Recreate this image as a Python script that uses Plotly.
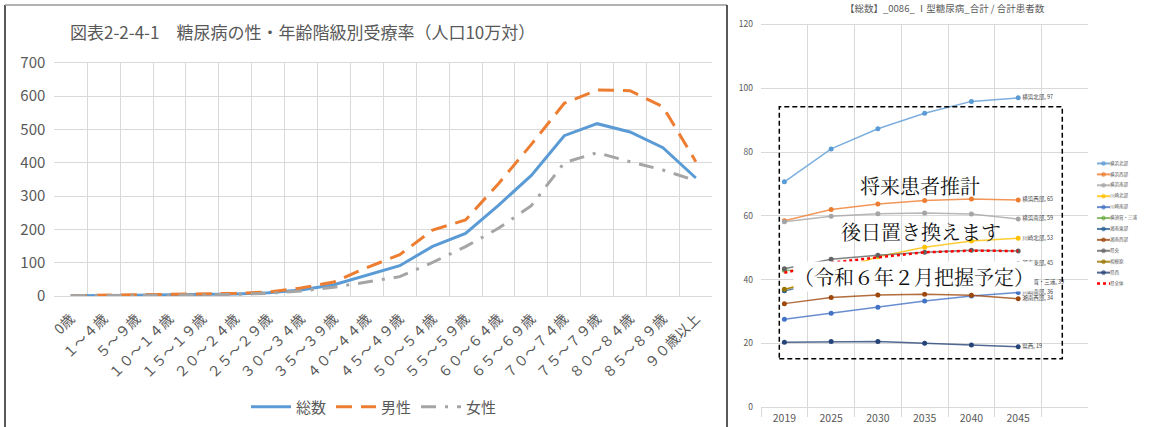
import plotly.graph_objects as go

FONT = "Noto Sans CJK JP"
SERIF = "Noto Serif CJK JP, " + FONT
GRID = "#D9D9D9"
TICK = "#595959"

# ---- 図表2-2-4-1 糖尿病の性・年齢階級別受療率（人口10万対） ----
age_groups = ["0歳", "１～４歳", "５～９歳", "１０～１４歳", "１５～１９歳", "２０～２４歳",
              "２５～２９歳", "３０～３４歳", "３５～３９歳", "４０～４４歳", "４５～４９歳",
              "５０～５４歳", "５５～５９歳", "６０～６４歳", "６５～６９歳", "７０～７４歳",
              "７５～７９歳", "８０～８４歳", "８５～８９歳", "９０歳以上"]
rate_total = [1, 1, 2, 4, 4, 6, 10, 18, 34, 62, 91, 149, 188, 272, 362, 481, 517, 492, 445, 354]
rate_male = [1, 2, 3, 4, 5, 8, 12, 24, 42, 85, 124, 198, 228, 337, 455, 578, 618, 616, 568, 403]
rate_female = [1, 1, 2, 3, 3, 5, 8, 15, 26, 42, 58, 101, 148, 203, 271, 400, 430, 403, 378, 346]

# ---- 【総数】_0086_ Ⅰ型糖尿病 合計患者数（二次医療圏別） ----
years = ["2019", "2025", "2030", "2035", "2040", "2045"]
areas = ["横浜北部", "横浜西部", "横浜南部", "川崎北部", "川崎南部", "横須賀・三浦",
         "湘南東部", "湘南西部", "県央", "相模原", "県西", "県全体"]
area_colors = ["#5B9BD5", "#ED7D31", "#A5A5A5", "#FFC000", "#4472C4", "#70AD47",
               "#255E91", "#9E480E", "#636363", "#997300", "#264478", "#FF0000"]
patients = {
    "横浜北部": [70.7, 81.0, 87.3, 92.2, 95.9, 97],
    "横浜西部": [58.5, 62.0, 63.7, 64.8, 65.3, 65],
    "横浜南部": [58.2, 59.9, 60.7, 60.9, 60.6, 59],
    "川崎北部": [36.8, 42.3, 47.2, 50.2, 52.1, 53],
    "川崎南部": [27.6, 29.5, 31.4, 33.3, 34.9, 36],
    "横須賀・三浦": [43.0, 42.6, 41.8, 40.9, 40.0, 39],
    "湘南東部": [36.5, 39.6, 41.7, 43.3, 44.4, 45],
    "湘南西部": [32.5, 34.4, 35.2, 35.4, 35.1, 34],
    "県央": [43.4, 46.4, 47.7, 48.6, 49.2, 49],
    "相模原": [37.0, 40.2, 42.3, 43.7, 44.5, 44.8],
    "県西": [20.4, 20.6, 20.6, 20.1, 19.5, 19],
    "県全体": [42.2, 45.3, 47.0, 48.6, 49.1, 49.0],
}
# series whose final value is written next to the 2045 point
end_labelled = ["横浜北部", "横浜西部", "横浜南部", "川崎北部", "川崎南部", "横須賀・三浦",
                "湘南東部", "湘南西部", "県西"]


def rgba(hex_color, a):
    h = hex_color.lstrip("#")
    return "rgba(%d,%d,%d,%.2f)" % (int(h[0:2], 16), int(h[2:4], 16), int(h[4:6], 16), a)


fig = go.Figure()

# left chart: rate by age group
fig.add_trace(go.Scatter(x=age_groups, y=rate_total, name="総数", mode="lines",
                         line=dict(color="#5B9BD5", width=3), xaxis="x", yaxis="y"))
fig.add_trace(go.Scatter(x=age_groups, y=rate_male, name="男性", mode="lines",
                         line=dict(color="#ED7D31", width=3, dash="16px,9px"), xaxis="x", yaxis="y"))
fig.add_trace(go.Scatter(x=age_groups, y=rate_female, name="女性", mode="lines",
                         line=dict(color="#A5A5A5", width=3, dash="15px,9px,3px,9px"), xaxis="x", yaxis="y"))

# right chart: projected patients per area
for name, color in zip(areas, area_colors):
    vals = patients[name]
    labels = [""] * (len(vals) - 1) + (["%s, %d" % (name, round(vals[-1]))] if name in end_labelled else [""])
    if name == "県全体":
        fig.add_trace(go.Scatter(x=years, y=vals, mode="lines", showlegend=False,
                                 line=dict(color=color, width=2.5, dash="dot"),
                                 xaxis="x2", yaxis="y2"))
    else:
        fig.add_trace(go.Scatter(x=years, y=vals, mode="lines+markers+text", showlegend=False,
                                 line=dict(color=rgba(color, 0.8), width=1.5),
                                 marker=dict(color=color, size=5),
                                 text=labels, textposition="middle right",
                                 textfont=dict(family=FONT, size=5.5, color="#404040"),
                                 cliponaxis=False, xaxis="x2", yaxis="y2"))

# compact legend for the right chart
for i, (name, color) in enumerate(zip(areas, area_colors)):
    if name == "県全体":
        fig.add_trace(go.Scatter(x=[3, 9.5, 16], y=[i, i, i], mode="lines+text", showlegend=False,
                                 line=dict(color=color, width=2.5, dash="dot"),
                                 text=["", "", name], textposition="middle right",
                                 textfont=dict(family=FONT, size=4.5, color=TICK),
                                 cliponaxis=False, hoverinfo="skip", xaxis="x3", yaxis="y3"))
    else:
        fig.add_trace(go.Scatter(x=[3, 9.5, 16], y=[i, i, i], mode="lines+markers+text", showlegend=False,
                                 line=dict(color=rgba(color, 0.8), width=2),
                                 marker=dict(color=color, size=[0, 4, 0]),
                                 text=["", "", name], textposition="middle right",
                                 textfont=dict(family=FONT, size=4.5, color=TICK),
                                 cliponaxis=False, hoverinfo="skip", xaxis="x3", yaxis="y3"))

W, H = 1152, 427


def px(x):
    return x / W


def py(y):
    return 1 - y / H


fig.update_layout(
    width=W, height=H, margin=dict(l=0, r=0, t=0, b=0, autoexpand=False),
    paper_bgcolor="white", plot_bgcolor="white",
    font=dict(family=FONT, color=TICK),
    xaxis=dict(domain=[px(54.3), px(712.3)], type="category", categoryorder="array",
               categoryarray=age_groups, range=[-0.5, 19.5], tickson="boundaries",
               showgrid=True, gridcolor=GRID, gridwidth=1, ticks="", tickangle=-45,
               tickfont=dict(size=14, color=TICK), showline=True, mirror=True, linecolor=GRID,
               ticklabelstandoff=8, anchor="y", zeroline=False, fixedrange=True, automargin=False),
    yaxis=dict(domain=[py(296), py(62.7)], range=[0, 700], dtick=100, showgrid=True,
               gridcolor=GRID, tickfont=dict(size=15, color=TICK), ticks="",
               ticklabelstandoff=8, zeroline=False, anchor="x", fixedrange=True, automargin=False),
    xaxis2=dict(domain=[px(761), px(1088.3)], type="category", categoryorder="array",
                categoryarray=years + [" "], range=[-0.5, 6.5], tickson="boundaries",
                showgrid=True, gridcolor=GRID, ticks="outside", ticklen=9, tickcolor=GRID,
                tickfont=dict(size=10.5, color=TICK), showline=True, mirror=True, linecolor=GRID,
                ticklabelstandoff=1, anchor="y2", zeroline=False, fixedrange=True, automargin=False),
    yaxis2=dict(domain=[py(407.3), py(24.5)], range=[0, 120], dtick=20, showgrid=True,
                gridcolor=GRID, tickfont=dict(size=8.5, color=TICK), ticks="",
                ticklabelstandoff=7, zeroline=False, anchor="x2", fixedrange=True, automargin=False),
    xaxis3=dict(domain=[px(1094), 1.0], range=[0, 58], visible=False, anchor="y3",
                fixedrange=True, automargin=False),
    yaxis3=dict(domain=[py(289), py(158)], range=[11.5, -0.5], visible=False, anchor="x3",
                fixedrange=True, automargin=False),
    showlegend=True,
    legend=dict(orientation="h", x=px(374), xanchor="center", y=py(407), yanchor="middle",
                font=dict(size=15, color=TICK), itemwidth=40, bgcolor="rgba(0,0,0,0)"),
    annotations=[
        dict(text="図表2-2-4-1　糖尿病の性・年齢階級別受療率（人口10万対）", x=px(68), y=py(32),
             xref="paper", yref="paper", xanchor="left", yanchor="middle", showarrow=False,
             font=dict(size=17, color=TICK)),
        dict(text="【総数】_0086_ Ⅰ型糖尿病_合計 / 合計患者数", x=px(945), y=py(8),
             xref="paper", yref="paper", xanchor="center", yanchor="middle", showarrow=False,
             font=dict(size=9.5, color=TICK)),
        dict(text="将来患者推計", x=px(920), y=py(185), xref="paper", yref="paper",
             xanchor="center", yanchor="middle",
             showarrow=False, font=dict(family=SERIF, size=20, color="#111111")),
        dict(text="後日置き換えます", x=px(921), y=py(231), xref="paper", yref="paper",
             xanchor="center", yanchor="middle",
             showarrow=False, font=dict(family=SERIF, size=20, color="#111111")),
        dict(text="（令和６年２月把握予定）", x=px(914), y=py(276), xref="paper", yref="paper",
             xanchor="center", yanchor="middle",
             showarrow=False, bgcolor="white", borderpad=0,
             font=dict(family=SERIF, size=20, color="#111111")),
        dict(text="49", x="2045", y=patients["県央"][-1], xref="x2", yref="y2",
             showarrow=True, arrowhead=0, arrowwidth=1, arrowcolor="#A5A5A5", ax=45, ay=0,
             font=dict(size=5.5, color="#404040")),
    ],
    shapes=[
        dict(type="rect", xref="paper", yref="paper", x0=px(779.3), x1=px(1062.3),
             y0=py(358.7), y1=py(106.7), line=dict(color="black", width=1.5, dash="5px,3px")),
        dict(type="line", xref="paper", yref="paper", x0=px(5), x1=px(5), y0=py(5), y1=0,
             line=dict(color="#222222", width=1.5)),
        dict(type="line", xref="paper", yref="paper", x0=px(5), x1=px(727), y0=py(5), y1=py(5),
             line=dict(color="#999999", width=1.5)),
        dict(type="line", xref="paper", yref="paper", x0=px(727), x1=px(727), y0=py(5), y1=0,
             line=dict(color="#222222", width=1.5)),
    ],
)

fig.write_html("out.html")
